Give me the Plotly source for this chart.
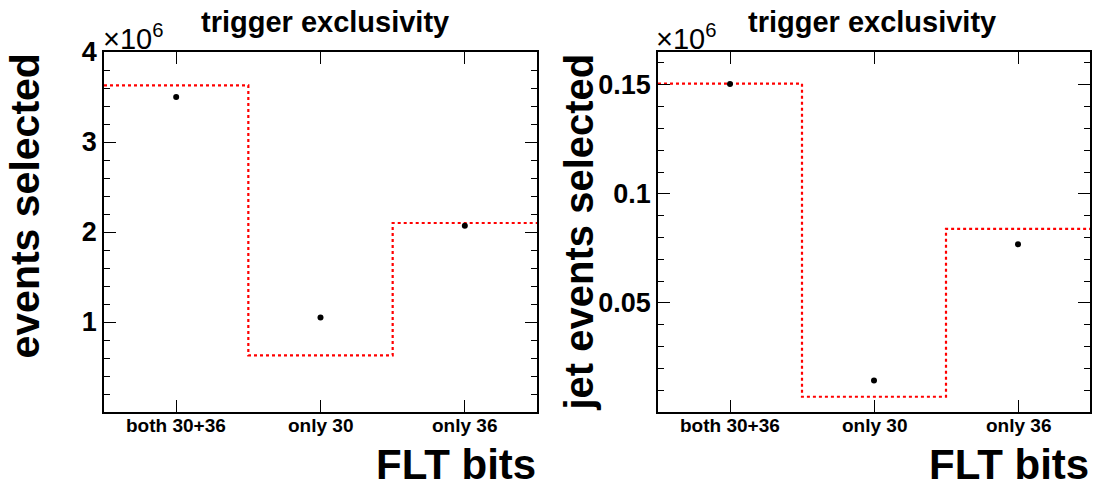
import plotly.graph_objects as go

# ---- data ----
categories = ["both 30+36", "only 30", "only 36"]
bin_edges = [0, 1, 2, 3]
bin_centers = [0.5, 1.5, 2.5]
left_hist = [3.63e6, 0.63e6, 2.10e6]
left_points = [3.50e6, 1.05e6, 2.07e6]
right_hist = [0.1505e6, 0.0070e6, 0.0839e6]
right_points = [0.1503e6, 0.0144e6, 0.0769e6]
left_yticks = [1e6, 2e6, 3e6, 4e6]
left_yticktext = ["1", "2", "3", "4"]
right_yticks = [0.05e6, 0.10e6, 0.15e6]
right_yticktext = ["0.05", "0.1", "0.15"]

W, H = 1105, 494
FONT = "Liberation Sans, Arial, Helvetica, sans-serif"

def px(x):
    return x / W

def py(y):
    return 1 - y / H

frames = {
    "left": (104, 537),
    "right": (658, 1090),
}
ytop, ybot = 52, 412

fig = go.Figure()

def add_panel(idx, hist, points):
    xa = "x" if idx == 1 else "x2"
    ya = "y" if idx == 1 else "y2"
    fig.add_trace(go.Scatter(
        x=bin_edges, y=list(hist) + [hist[-1]],
        mode="lines", line=dict(color="#ff0000", width=2.2, dash="3px,3px", shape="hv"),
        xaxis=xa, yaxis=ya, showlegend=False, hoverinfo="skip"))
    fig.add_trace(go.Scatter(
        x=bin_centers, y=points, mode="markers",
        marker=dict(color="black", size=6, symbol="circle"),
        xaxis=xa, yaxis=ya, showlegend=False))
    # category labels placed on the x axis scale
    for c, lab in zip(bin_centers, categories):
        fig.add_annotation(text=lab, x=c, xref=xa, y=py(425), yref="paper",
                           xanchor="center", yanchor="middle", showarrow=False,
                           font=dict(family=FONT, size=19, color="black", weight="bold"))

add_panel(1, left_hist, left_points)
add_panel(2, right_hist, right_points)

common_x = dict(
    range=[0, 3], tickmode="array", tickvals=bin_centers, ticktext=categories,
    showticklabels=False, automargin=False,
    ticks="inside", ticklen=12, tickwidth=1, tickcolor="black",
    showline=True, linecolor="black", linewidth=1.6, mirror="ticks",
    showgrid=False, zeroline=False,
)
common_y = dict(
    ticks="inside", ticklen=12, tickwidth=1, tickcolor="black", automargin=False,
    showline=True, linecolor="black", linewidth=1.6, mirror="ticks",
    showgrid=False, zeroline=False, tickmode="array",
    tickfont=dict(family=FONT, size=27, color="black", weight="bold"),
)

fig.update_layout(
    width=W, height=H,
    margin=dict(l=0, r=0, t=0, b=0),
    paper_bgcolor="white", plot_bgcolor="white",
    xaxis=dict(domain=[px(frames["left"][0]), px(frames["left"][1])], anchor="y", **common_x),
    xaxis2=dict(domain=[px(frames["right"][0]), px(frames["right"][1])], anchor="y2", **common_x),
    yaxis=dict(domain=[py(ybot), py(ytop)], anchor="x", range=[0, 4e6],
               tickvals=left_yticks, ticktext=left_yticktext,
               minor=dict(dtick=0.2e6, tick0=0, ticks="inside", ticklen=6, tickwidth=1, tickcolor="black"),
               **common_y),
    yaxis2=dict(domain=[py(ybot), py(ytop)], anchor="x2", range=[0, 0.165e6],
                tickvals=right_yticks, ticktext=right_yticktext,
                minor=dict(dtick=0.01e6, tick0=0, ticks="inside", ticklen=6, tickwidth=1, tickcolor="black"),
                **common_y),
)

def ann(text, x, y, size, xanchor="center", yanchor="middle", angle=0):
    fig.add_annotation(text=text, x=px(x), y=py(y), xref="paper", yref="paper",
                       xanchor=xanchor, yanchor=yanchor, textangle=angle, showarrow=False,
                       font=dict(family=FONT, size=size, color="black", weight="bold"))

# titles
ann("trigger exclusivity", 325, 22, 29)
ann("trigger exclusivity", 872, 22, 29)
# y-axis titles (right-aligned to top of frame)
ann("events selected", 24, ytop, 41, yanchor="top", angle=-90)
ann("jet events selected", 578, ytop, 40, yanchor="top", angle=-90)
# x-axis titles
ann("FLT bits", 538, 464, 42, xanchor="right")
ann("FLT bits", 1091, 464, 42, xanchor="right")
# exponent labels
fig.add_annotation(text="×10<sup>6</sup>", x=px(101), y=py(57), xref="paper", yref="paper",
                   xanchor="left", yanchor="bottom", showarrow=False,
                   font=dict(family=FONT, size=29, color="black"))
fig.add_annotation(text="×10<sup>6</sup>", x=px(654), y=py(57), xref="paper", yref="paper",
                   xanchor="left", yanchor="bottom", showarrow=False,
                   font=dict(family=FONT, size=29, color="black"))

fig.write_html("out.html")
